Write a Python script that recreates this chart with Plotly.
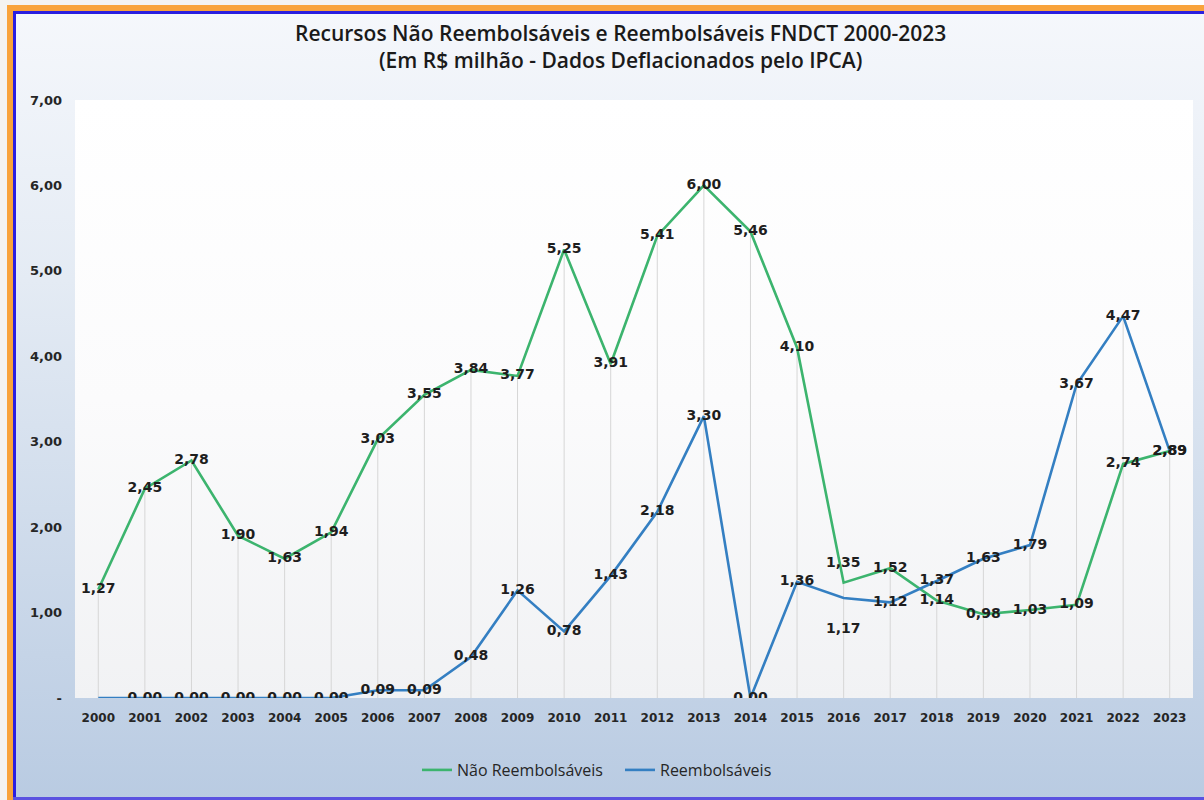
import base64
import plotly.graph_objects as go

# ---------------- data ----------------
years = list(range(2000, 2024))
year_labels = [str(y) for y in years]
nao_reembolsaveis = [1.27, 2.45, 2.78, 1.90, 1.63, 1.94, 3.03, 3.55, 3.84, 3.77, 5.25, 3.91,
                     5.41, 6.00, 5.46, 4.10, 1.35, 1.52, 1.14, 0.98, 1.03, 1.09, 2.74, 2.89]
reembolsaveis = [0.00, 0.00, 0.00, 0.00, 0.00, 0.00, 0.09, 0.09, 0.48, 1.26, 0.78, 1.43,
                 2.18, 3.30, 0.00, 1.36, 1.17, 1.12, 1.37, 1.63, 1.79, 3.67, 4.47, 2.89]
y_tick_values = [0, 1, 2, 3, 4, 5, 6, 7]
y_tick_labels = ["-", "1,00", "2,00", "3,00", "4,00", "5,00", "6,00", "7,00"]

title_text = ("Recursos Não Reembolsáveis e Reembolsáveis FNDCT 2000-2023<br>"
              "(Em R$ milhão - Dados Deflacionados pelo IPCA)")

# ---------------- helpers ----------------
W, H = 1204, 800
L, R, T, B = 75, 11, 100, 102
PW, PH = W - L - R, H - T - B


def px(x):
    return (x - L) / PW


def py(y):
    return (H - B - y) / PH


def fmt(v):
    return f"{v:.2f}".replace(".", ",")


def svg_gradient(stops):
    st = "".join(f'<stop offset="{o}" stop-color="{c}"/>' for o, c in stops)
    svg = ('<svg xmlns="http://www.w3.org/2000/svg" width="100" height="100" preserveAspectRatio="none">'
           '<defs><linearGradient id="g" x1="0" y1="0" x2="0" y2="1">' + st +
           '</linearGradient></defs><rect width="100" height="100" fill="url(#g)"/></svg>')
    return "data:image/svg+xml;base64," + base64.b64encode(svg.encode()).decode()


green = "#3cb46e"
blue = "#347fc2"
label_font = dict(family="DejaVu Sans, Verdana", size=14, color="#1e1e1e", weight="bold")

fig = go.Figure()

# drop lines from the highest point of each year down to the axis
drop_x, drop_y = [], []
for yr, a, b in zip(years, nao_reembolsaveis, reembolsaveis):
    drop_x += [yr, yr, None]
    drop_y += [0, max(a, b), None]
fig.add_trace(go.Scatter(x=drop_x, y=drop_y, mode="lines",
                         line=dict(color="#d6d6d6", width=1),
                         hoverinfo="skip", showlegend=False))

fig.add_trace(go.Scatter(x=years, y=nao_reembolsaveis, mode="lines", name="Não Reembolsáveis",
                         line=dict(color=green, width=2.6)))
fig.add_trace(go.Scatter(x=years, y=reembolsaveis, mode="lines", name="Reembolsáveis",
                         line=dict(color=blue, width=2.6)))

# data labels (centered on points; 2016 labels are shifted with annotations)
i16 = years.index(2016)
blue_text = [fmt(v) for v in reembolsaveis]
blue_text[0] = ""
blue_text[i16] = ""
green_text = [fmt(v) for v in nao_reembolsaveis]
green_text[i16] = ""

fig.add_trace(go.Scatter(x=years, y=reembolsaveis, mode="text", text=blue_text,
                         textposition="middle center", textfont=label_font,
                         hoverinfo="skip", showlegend=False))
fig.add_trace(go.Scatter(x=years, y=nao_reembolsaveis, mode="text", text=green_text,
                         textposition="middle center", textfont=label_font,
                         hoverinfo="skip", showlegend=False))

# backgrounds
images = [
    dict(source=svg_gradient([(0, "#f6f8fc"), (0.35, "#e4ebf4"), (1, "#b9cbe2")]),
         xref="paper", yref="paper", x=px(0), y=py(0), sizex=W / PW, sizey=H / PH,
         xanchor="left", yanchor="top", sizing="stretch", layer="below"),
    dict(source=svg_gradient([(0, "#ffffff"), (0.5, "#fbfbfc"), (1, "#f1f2f4")]),
         xref="paper", yref="paper", x=0, y=1, sizex=1, sizey=1,
         xanchor="left", yanchor="top", sizing="stretch", layer="below"),
]


def rect(x0, y0, x1, y1, color):
    return dict(type="rect", xref="paper", yref="paper",
                x0=px(x0), x1=px(x1), y0=py(y1), y1=py(y0),
                fillcolor=color, line=dict(width=0), layer="above")


shapes = [
    rect(0, 0, 7, 800, "#f4f3f1"),
    rect(0, 0, 1000, 5, "#f4f3f1"),
    rect(1000, 0, 1204, 5, "#ffffff"),
    rect(7, 5, 1204, 11, "#f9a33b"),
    rect(7, 5, 13, 800, "#f9a33b"),
    rect(13, 11, 1204, 14, "#2b1fe0"),
    rect(13, 11, 16, 800, "#2b1fe0"),
    rect(13, 797, 1204, 800, "#5a52e0"),
]

annotations = [
    dict(text=title_text, xref="paper", yref="paper", x=px(620), y=py(47),
         xanchor="center", yanchor="middle", showarrow=False, align="center",
         font=dict(family="Open Sans", size=21, color="#1a1a1a", weight=600)),
    dict(text=fmt(nao_reembolsaveis[i16]), x=years[i16], y=nao_reembolsaveis[i16],
         xref="x", yref="y", showarrow=False, yshift=21, font=label_font),
    dict(text=fmt(reembolsaveis[i16]), x=years[i16], y=reembolsaveis[i16],
         xref="x", yref="y", showarrow=False, yshift=-30, font=label_font),
]

fig.update_layout(
    width=W, height=H,
    margin=dict(l=L, r=R, t=T, b=B),
    paper_bgcolor="#eef2f8",
    plot_bgcolor="rgba(0,0,0,0)",
    images=images,
    shapes=shapes,
    annotations=annotations,
    xaxis=dict(range=[1999.5, 2023.5], tickvals=years, ticktext=year_labels,
               showgrid=False, zeroline=False, showline=False, ticks="",
               ticklabelstandoff=11,
               tickfont=dict(family="DejaVu Sans, Verdana", size=12, color="#262626", weight="bold")),
    yaxis=dict(range=[0, 7], tickvals=y_tick_values, ticktext=y_tick_labels,
               showgrid=False, zeroline=False, showline=False, ticks="",
               ticklabelstandoff=12,
               tickfont=dict(family="DejaVu Sans, Verdana", size=13, color="#262626", weight="bold")),
    legend=dict(orientation="h", x=px(417), xanchor="left", y=py(770), yanchor="middle",
                bgcolor="rgba(0,0,0,0)", font=dict(family="Open Sans", size=16, color="#262626"),
                entrywidth=158, itemwidth=30),
    showlegend=True,
)

fig.write_html("out.html", config={"displayModeBar": False},
               post_script="document.body.style.margin='0';document.body.style.padding='0';")
